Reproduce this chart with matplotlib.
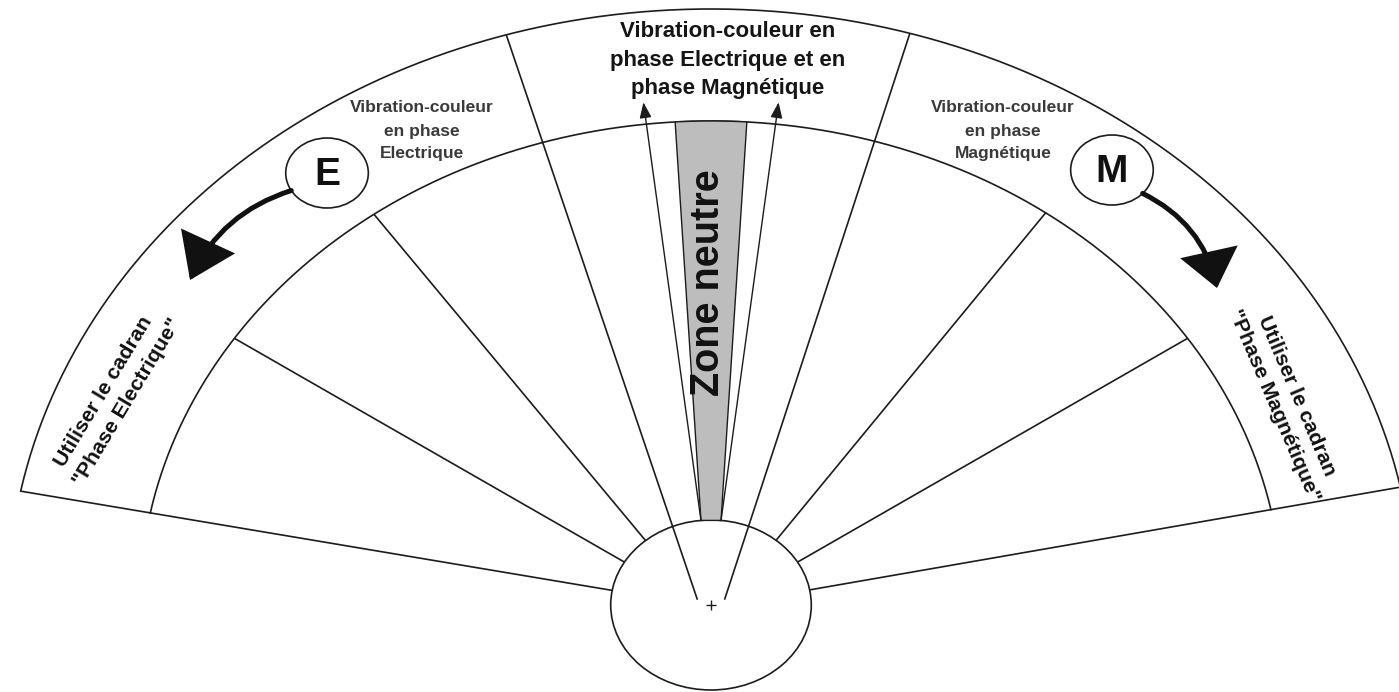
import numpy as np
import matplotlib
matplotlib.use("Agg")
import matplotlib.pyplot as plt
from matplotlib.patches import Circle, Polygon, FancyArrowPatch
from matplotlib import font_manager

# ---------------- data ----------------
left_line_angles = [168.8, 145.9, 125.2, 106.0]     # degrees, rays from the left focus
right_line_angles = [11.6, 34.1, 55.1, 74.5]        # degrees, rays from the right focus
boundary_angles = [168.8, 11.6]                      # fan edges reaching the outer arc
divider_angles = [106.0, 74.5]                       # rays crossing the outer band
arrow_tip_angles = [96.5, 83.5]                      # the two thin arrows

outer_radius = 596
inner_radius = 484
hub_radius = 85
focus_offset = 10
arrow_tip_radius = 506
wedge_half_angle = 3.6
wedge_base_half_width = 8.5

top_lines = ["Vibration-couleur en", "phase Electrique et en", "phase Magnétique"]
left_band_lines = ["Vibration-couleur", "en phase", "Electrique"]
right_band_lines = ["Vibration-couleur", "en phase", "Magnétique"]
left_side_lines = ["Utiliser le cadran", "\"Phase Electrique\""]
right_side_lines = ["Utiliser le cadran", "\"Phase Magnétique\""]
neutral_label = "Zone neutre"
badge_letters = ["E", "M"]

# ---------------- layout ----------------
STRETCH = 1.18
W, H = 1399, 692
CX, CY = 711, 605

fig = plt.figure(figsize=(W / 100, H / 100), dpi=100)
ax = fig.add_axes([0, 0, 1, 1])
ax.set_xlim(-CX / STRETCH, (W - CX) / STRETCH)
ax.set_ylim(CY - H, CY)
ax.axis("off")

names = {f.name for f in font_manager.fontManager.ttflist}
SANS = ["Liberation Sans", "DejaVu Sans"]
NARROW = ["Liberation Sans Narrow", "Liberation Sans", "DejaVu Sans"]
narrow_ok = "Liberation Sans Narrow" in names

LC = "#1c1c1c"
LW = 1.2


def ray_circle(fx, ang, R):
    d = np.array([np.cos(np.radians(ang)), np.sin(np.radians(ang))])
    F = np.array([fx, 0.0])
    b = F @ d
    t = -b + np.sqrt(b * b - F @ F + R * R)
    return F + t * d


# hub
hub = Circle((0, 0), hub_radius, facecolor="white", edgecolor=LC, lw=LW, zorder=2)
ax.add_patch(hub)

# radial lines
for fx, angles in ((-focus_offset, left_line_angles), (focus_offset, right_line_angles)):
    for a in angles:
        if a in divider_angles:
            d = np.array([np.cos(np.radians(a)), np.sin(np.radians(a))])
            start = np.array([fx, 0.0]) + 5.5 * d
        else:
            start = ray_circle(fx, a, hub_radius)
        R = outer_radius if (a in boundary_angles or a in divider_angles) else inner_radius
        end = ray_circle(fx, a, R)
        ax.plot([start[0], end[0]], [start[1], end[1]], color=LC, lw=LW, zorder=3,
                solid_capstyle="butt")

# arcs
for R in (outer_radius, inner_radius):
    pl = ray_circle(-focus_offset, boundary_angles[0], R)
    pr = ray_circle(focus_offset, boundary_angles[1], R)
    a0 = np.arctan2(pr[1], pr[0])
    a1 = np.arctan2(pl[1], pl[0])
    t = np.linspace(a0, a1, 400)
    ax.plot(R * np.cos(t), R * np.sin(t), color=LC, lw=LW, zorder=3)

# neutral wedge
by = np.sqrt(hub_radius ** 2 - wedge_base_half_width ** 2)
ta = np.radians(np.linspace(90 - wedge_half_angle, 90 + wedge_half_angle, 20))
wedge_pts = [(-wedge_base_half_width, by), (wedge_base_half_width, by)] + \
    list(zip(inner_radius * np.cos(ta), inner_radius * np.sin(ta)))
ax.add_patch(Polygon(wedge_pts, closed=True, facecolor="#bdbdbd", edgecolor=LC, lw=1.0, zorder=3))
ax.text(-2.5, 322, neutral_label, rotation=90, ha="center", va="center",
        fontsize=28.5, fontweight="bold", family=SANS, color="#111111", zorder=5)

# thin arrows
for sx, a in zip((-wedge_base_half_width, wedge_base_half_width), arrow_tip_angles):
    tip = (arrow_tip_radius * np.cos(np.radians(a)), arrow_tip_radius * np.sin(np.radians(a)))
    arr = FancyArrowPatch((sx, by), tip, arrowstyle="-|>,head_length=0.95,head_width=0.36",
                          mutation_scale=10, lw=1.0, color=LC, shrinkA=0, shrinkB=0, zorder=4)
    ax.add_patch(arr)

# top text
for txt, yb in zip(top_lines, [568, 539, 511]):
    ax.text(14.4, yb, txt, ha="center", va="baseline", fontsize=16, fontweight="bold",
            family=SANS, color="#151515", zorder=5)

# band texts
for lines, xc in ((left_band_lines, -244.9), (right_band_lines, 247.5)):
    for txt, yb in zip(lines, [493, 469, 447]):
        ax.text(xc, yb, txt, ha="center", va="baseline", fontsize=12.5, fontweight="bold",
                family=SANS, color="#3a3a3a", zorder=5)

# badges
badge_centers = [(-325.4, 432), (339.8, 435)]
badge_r = 35
for (bx, by_), letter in zip(badge_centers, badge_letters):
    ax.add_patch(Circle((bx, by_), badge_r, facecolor="white", edgecolor=LC, lw=LW, zorder=4))
    ax.text(bx, by_ - 2, letter, ha="center", va="center", fontsize=28, fontweight="bold",
            family=SANS, color="#111111", zorder=5)

# curved arrows
arrow_start_angles = [210, -42]
arrow_tips = [(-441.5, 325), (428.8, 317)]
arrow_rads = [0.22, -0.24]
head_specs = [(2.6, 1.8), (2.2, 1.75)]
for (bx, by_), sa, tip, rad, (hl, hw) in zip(badge_centers, arrow_start_angles, arrow_tips,
                                            arrow_rads, head_specs):
    start = (bx + badge_r * np.cos(np.radians(sa)), by_ + badge_r * np.sin(np.radians(sa)))
    arr = FancyArrowPatch(start, tip, connectionstyle=f"arc3,rad={rad}",
                          arrowstyle=f"-|>,head_length={hl},head_width={hw}",
                          mutation_scale=10, lw=3.6, color="#111111", shrinkA=0, shrinkB=0,
                          zorder=4, joinstyle="miter")
    ax.add_patch(arr)

# side rotated texts
side_fs = 17 if narrow_ok else 15.3
fam = NARROW if narrow_ok else SANS
for txt, (x, y) in zip(left_side_lines, [(-514.4, 213), (-494.9, 203)]):
    ax.text(x, y, txt, rotation=59, rotation_mode="anchor", ha="center", va="center",
            fontsize=side_fs, fontweight="bold", family=fam, color="#111111", zorder=5)
for txt, (x, y) in zip(right_side_lines, [(496.6, 209), (477.1, 199)]):
    ax.text(x, y, txt, rotation=-67, rotation_mode="anchor", ha="center", va="center",
            fontsize=side_fs, fontweight="bold", family=fam, color="#111111", zorder=5)

# center mark
ax.plot([0], [0], marker="+", ms=7, mew=1.0, color=LC, zorder=5)

fig.savefig("out.png", dpi=100, facecolor="white")
